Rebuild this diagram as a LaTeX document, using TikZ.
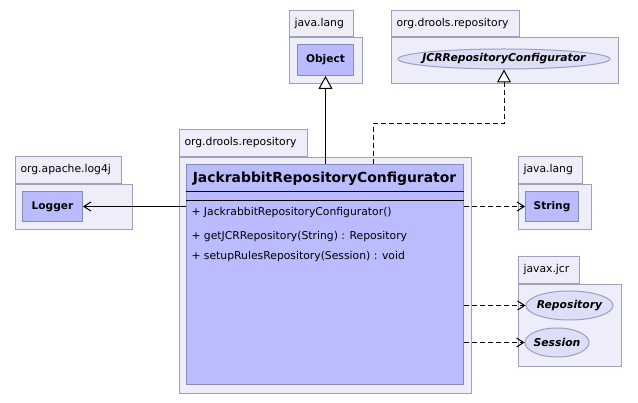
\documentclass[tikz,border=0pt]{standalone}
\usepackage{fontspec}
\setmainfont{DejaVu Sans}
\usetikzlibrary{arrows.meta,shapes.geometric,positioning}
\definecolor{pkgfill}{RGB}{238,238,251}
\definecolor{pkgline}{RGB}{160,160,182}
\definecolor{clsfill}{RGB}{186,188,255}
\definecolor{clsline}{RGB}{136,138,178}
\definecolor{ifcfill}{RGB}{221,222,248}
\definecolor{ifcline}{RGB}{158,158,190}
\begin{document}
\begin{tikzpicture}[
    x=1pt, y=-1pt,
    line width=1pt,
    every node/.style={font=\fontsize{10.8}{12}\selectfont, text=black},
    pkgtab/.style={draw=pkgline, fill=pkgfill, anchor=north west, inner xsep=5pt,
      inner ysep=0pt, minimum height=#1, align=left},
    pkgbody/.style={draw=pkgline, fill=pkgfill, anchor=north west, inner sep=0pt},
    classbox/.style={draw=clsline, fill=clsfill, anchor=north west, inner sep=0pt,
      font=\fontsize{10.6}{12}\selectfont\bfseries},
    ifcbox/.style={ellipse, draw=ifcline, fill=ifcfill, inner sep=0pt,
      font=\fontsize{10.8}{12}\selectfont\bfseries\itshape},
    member/.style={anchor=west, inner sep=0pt},
    inherit/.style={draw=black, -{Triangle[open, fill=white, length=13pt, width=14pt]}},
    realize/.style={draw=black, dash pattern=on 5pt off 3pt,
      -{Triangle[open, fill=white, length=13pt, width=14pt]}},
    assoc/.style={draw=black, -{Straight Barb[length=7pt, width=9pt]}},
    depend/.style={draw=black, dash pattern=on 5pt off 3pt,
      -{Straight Barb[length=7pt, width=9pt]}}
  ]
  \useasboundingbox (0,0) rectangle (638,403);

  %--------------------------------------
  % packages: tab + body
  %--------------------------------------
  % java.lang (top)
  \node[pkgtab=26pt, text width=54pt] (langTopTab) at (289,10) {java.lang};
  \node[pkgbody, minimum width=73pt, minimum height=46pt] (langTop) at (langTopTab.south west) {};
  % org.drools.repository (top)
  \node[pkgtab=26pt, text width=118pt] (droolsTopTab) at (391,10) {org.drools.repository};
  \node[pkgbody, minimum width=227pt, minimum height=46pt] (droolsTop) at (droolsTopTab.south west) {};
  % org.apache.log4j
  \node[pkgtab=27pt, text width=96pt] (log4jTab) at (15,156) {org.apache.log4j};
  \node[pkgbody, minimum width=117pt, minimum height=45pt] (log4j) at (log4jTab.south west) {};
  % java.lang (right)
  \node[pkgtab=27pt, text width=54pt] (langTab) at (518,156) {java.lang};
  \node[pkgbody, minimum width=73pt, minimum height=45pt] (lang) at (langTab.south west) {};
  % javax.jcr
  \node[pkgtab=27pt, text width=51pt] (jcrTab) at (518,256) {javax.jcr};
  \node[pkgbody, minimum width=103pt, minimum height=82pt] (jcr) at (jcrTab.south west) {};
  % org.drools.repository (main)
  \node[pkgtab=27pt, text width=118pt] (droolsTab) at (179,129) {org.drools.repository};
  \node[pkgbody, minimum width=292pt, minimum height=236pt] (drools) at (droolsTab.south west) {};

  %--------------------------------------
  % classes and interfaces
  %--------------------------------------
  \node[classbox, minimum width=56pt, minimum height=31pt] (object) at (297,44) {Object};
  \node[ifcbox, inner xsep=-12pt, minimum width=212pt, minimum height=20pt] (jcrconf) at (504,59) {JCRRepositoryConfigurator};
  \node[classbox, minimum width=60pt, minimum height=30pt] (logger) at (22,191) {Logger};
  \node[classbox, minimum width=53pt, minimum height=30pt] (string) at (525,191) {String};
  \node[ifcbox, inner xsep=-2pt, minimum width=87pt, minimum height=29pt] (repository) at (569.5,305.5) {Repository};
  \node[ifcbox, inner xsep=-1pt, minimum width=64pt, minimum height=29pt] (session) at (557,342.5) {Session};

  % main class
  \node[classbox, minimum width=277pt, minimum height=220pt] (cls) at (186,164) {};
  \node[font=\fontsize{13.9}{16}\selectfont\bfseries] (clsname) at (324.5,179) {JackrabbitRepositoryConfigurator};
  \draw[black] (cls.west |- 0,192) -- (cls.east |- 0,192);
  \draw[black] (cls.west |- 0,201) -- (cls.east |- 0,201);
  \node[member] (ctor) at (191,213) {+ JackrabbitRepositoryConfigurator()};
  \node[member] (getjcr) at (191,237) {+ getJCRRepository(String) : Repository};
  \node[member] (setup) at (191,257) {+ setupRulesRepository(Session) : void};

  %--------------------------------------
  % relations
  %--------------------------------------
  \draw[inherit] (object.south |- cls.north) -- (object.south);
  \coordinate (realFoot) at (373,164);
  \coordinate (realKnee) at (504,124);
  \draw[realize] (realFoot) |- (realKnee) -- (jcrconf.south);
  \draw[assoc] (cls.west |- logger.east) -- (logger.east);
  \draw[depend] (cls.east |- string.west) -- (string.west);
  \draw[depend] (cls.east |- repository.west) -- (repository.west);
  \draw[depend] (cls.east |- session.west) -- (session.west);
\end{tikzpicture}
\end{document}
